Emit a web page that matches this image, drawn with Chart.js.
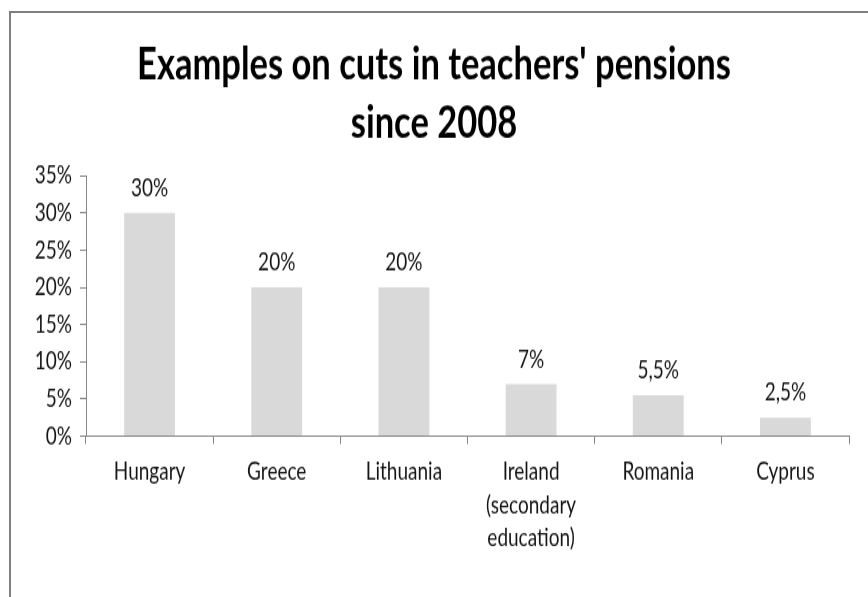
<!DOCTYPE html>
<html>
<head>
<meta charset="utf-8">
<script src="https://cdn.jsdelivr.net/npm/chart.js@4.4.1/dist/chart.umd.min.js"></script>
<style>
    html, body { margin: 0; padding: 0; background: #fff; }
    #wrap { position: relative; width: 868px; height: 597px; overflow: hidden; }
    #frame {
        position: absolute; left: 9px; top: 11px; right: -10px; bottom: -10px;
        border-left: 2px solid #7f7f7f; border-top: 2px solid #7f7f7f;
        pointer-events: none;
    }
    /* весь график вытянут по вертикали, шрифт выглядит узким и высоким */
    canvas { position: absolute; left: 0; top: 0; transform: scaleY(1.3); transform-origin: 0 0; }
</style>
</head>
<body>
<div id="wrap">
    <canvas id="chart" width="868" height="459"></canvas>
    <div id="frame"></div>
</div>
<script>
// ─── Данные ─────────────────────────────────────────────────────────────────

const TITLE_LINES = ["Examples on cuts in teachers' pensions", "since 2008"];
const COUNTRIES = [
    "Hungary",
    "Greece",
    "Lithuania",
    ["Ireland", "(secondary", "education)"],
    "Romania",
    "Cyprus",
];
const CUTS = [30, 20, 20, 7, 5.5, 2.5];        // сокращение пенсий, %
const Y_TICKS = [0, 5, 10, 15, 20, 25, 30, 35];

const FONT = "Lato, 'Open Sans', sans-serif";
const TEXT = "#151515";
const AXIS = "#868686";

// 5.5 -> "5,5%" (десятичная запятая, как в подписях)
function pct(v) {
    return String(v).replace(".", ",") + "%";
}

// ─── Подписи значений над столбцами ─────────────────────────────────────────

const valueLabels = {
    id: "valueLabels",
    afterDatasetsDraw(chart) {
        const {ctx} = chart;
        const meta = chart.getDatasetMeta(0);
        ctx.save();
        ctx.font = `19px ${FONT}`;
        ctx.fillStyle = TEXT;
        ctx.textAlign = "center";
        ctx.textBaseline = "middle";
        meta.data.forEach((bar, i) => {
            ctx.fillText(pct(CUTS[i]), bar.x, bar.y - 19);
        });
        ctx.restore();
    },
};

// ─── График ─────────────────────────────────────────────────────────────────

new Chart(document.getElementById("chart"), {
    type: "bar",
    data: {
        labels: COUNTRIES,
        datasets: [{
            data: CUTS,
            backgroundColor: "#d9d9d9",
            borderWidth: 0,
            barPercentage: 0.4,
            categoryPercentage: 1.0,
        }],
    },
    plugins: [valueLabels],
    options: {
        responsive: false,
        animation: false,
        // симметричные поля слева/справа, чтобы заголовок стоял по центру холста
        layout: {padding: {left: 19, right: 19, top: 10, bottom: 23}},
        scales: {
            y: {
                min: 0,
                max: 35,
                afterBuildTicks(scale) {
                    scale.ticks = Y_TICKS.map((v) => ({value: v}));
                },
                afterFit(scale) {
                    scale.width = 67;
                },
                border: {color: AXIS, width: 1},
                grid: {drawOnChartArea: false, color: AXIS, tickLength: 6},
                ticks: {
                    color: TEXT,
                    font: {family: FONT, size: 19},
                    padding: 8,
                    callback: (v) => pct(v),
                },
            },
            x: {
                border: {color: AXIS, width: 1},
                grid: {drawOnChartArea: false, color: AXIS, tickLength: 6, offset: true},
                ticks: {
                    color: TEXT,
                    font: {family: FONT, size: 19, lineHeight: 1.34},
                    padding: 9,
                    maxRotation: 0,
                    autoSkip: false,
                },
            },
        },
        plugins: {
            legend: {display: false},
            tooltip: {enabled: false},
            title: {
                display: true,
                text: TITLE_LINES,
                color: "#000",
                font: {family: FONT, size: 34.5, weight: "bold", lineHeight: 1.32},
                padding: {top: 17, bottom: 17},
            },
        },
    },
});
</script>
</body>
</html>
